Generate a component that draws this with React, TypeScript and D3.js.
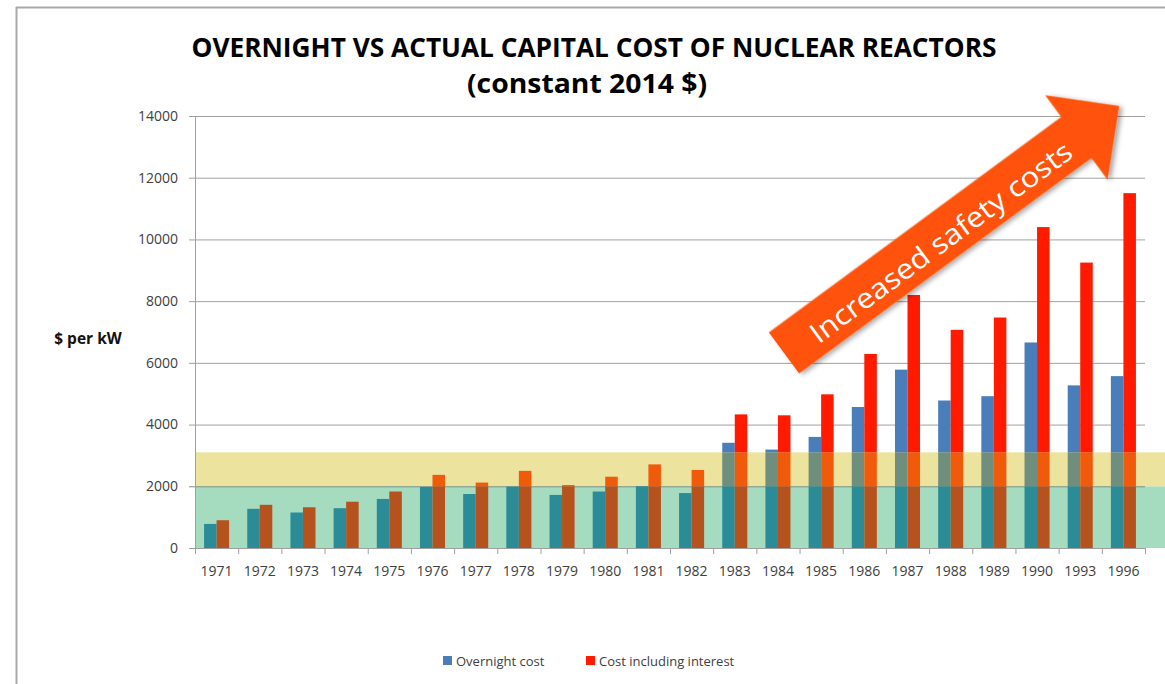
import React from "react";
import * as d3 from "d3";

const years = ["1971","1972","1973","1974","1975","1976","1977","1978","1979","1980","1981","1982","1983","1984","1985","1986","1987","1988","1989","1990","1993","1996"];
const overnightCost = [780,1270,1150,1290,1590,1980,1750,1990,1720,1830,2000,1780,3410,3190,3600,4570,5780,4780,4920,6660,5270,5570];
const costWithInterest = [900,1400,1320,1500,1830,2370,2120,2500,2040,2310,2710,2530,4330,4300,4980,6290,8200,7070,7470,10400,9250,11500];
const yTicks = [0,2000,4000,6000,8000,10000,12000,14000];
const seriesNames = ["Overnight cost","Cost including interest"];
// shaded zones (value range)
const zoneBounds = [0, 2000, 3100];
// arrow annotation in data units: [category position, value]
const arrowTail = [13.64, 6320];
const arrowTip = [21.4, 14324];
const arrowLabel = "Increased safety costs";

const W = 1165, H = 684;
const M = { left: 195, right: 1145, top: 116, bottom: 548 };

const seriesColors = ["#4a7ebb", "#ff1a00"];
// colors of bars: inside green zone, inside yellow zone, above
const zoneBarColors = [
  ["#2b8b97", "#6f8e7d", "#4a7ebb"],
  ["#b5521e", "#f25a0b", "#ff1a00"],
];
const zoneFills = ["#a5dcc0", "#ebe39e"];

export default function App() {
  const x = d3.scaleBand().domain(years).range([M.left, M.right]).padding(0);
  const xi = d3.scaleLinear().domain([0, years.length]).range([M.left, M.right]);
  const y = d3.scaleLinear().domain([0, 14000]).range([M.bottom, M.top]);
  const bw = x.bandwidth();
  const barW = bw * 0.29;
  const font = "'Open Sans', 'Liberation Sans', sans-serif";
  const series = [overnightCost, costWithInterest];
  const limits = [zoneBounds[1], zoneBounds[2], Infinity];

  // arrow geometry
  const x0 = xi(arrowTail[0]), y0 = y(arrowTail[1]);
  const x1 = xi(arrowTip[0]), y1 = y(arrowTip[1]);
  const L = Math.hypot(x1 - x0, y1 - y0);
  const ang = (Math.atan2(y1 - y0, x1 - x0) * 180) / Math.PI;
  const sh = 25.5, hh = 52.5, hl = 53;
  const arrowPts = [
    [0, -sh], [L - hl, -sh], [L - hl, -hh], [L, 0], [L - hl, hh], [L - hl, sh], [0, sh],
  ].map((p) => p.join(",")).join(" ");

  return (
    <svg width={W} height={H} style={{ position: "absolute", left: 0, top: 0, background: "#fff" }}>
      <defs>
        <filter id="shadow" x="-10%" y="-10%" width="130%" height="130%">
          <feDropShadow dx="2" dy="3" stdDeviation="2.5" floodColor="#000" floodOpacity="0.35" />
        </filter>
      </defs>
      {/* frame */}
      <line x1={16} y1={7.5} x2={W} y2={7.5} stroke="#a8a8a8" strokeWidth={2} />
      <line x1={16.5} y1={7} x2={16.5} y2={H} stroke="#a8a8a8" strokeWidth={2} />

      {/* title */}
      <text x={594} y={57} textAnchor="middle" fontFamily={font} fontWeight="bold" fontSize={26.5}
        textLength={805} lengthAdjust="spacingAndGlyphs" fill="#000">
        OVERNIGHT VS ACTUAL CAPITAL COST OF NUCLEAR REACTORS
      </text>
      <text x={587} y={93} textAnchor="middle" fontFamily={font} fontWeight="bold" fontSize={26.5}
        textLength={240} lengthAdjust="spacingAndGlyphs" fill="#000">
        (constant 2014 $)
      </text>

      {/* zones */}
      {zoneFills.map((c, i) => (
        <rect key={"z" + i} x={M.left} width={W - M.left}
          y={y(zoneBounds[i + 1])} height={y(zoneBounds[i]) - y(zoneBounds[i + 1])} fill={c} />
      ))}

      {/* gridlines */}
      {yTicks.map((t) => (
        <line key={"g" + t} x1={M.left - 6} x2={M.right} y1={y(t) + 0.5} y2={y(t) + 0.5}
          stroke={t === 2000 ? "#7f8f80" : "#a0a0a0"} strokeWidth={1} />
      ))}
      {yTicks.map((t) => (
        <text key={"yt" + t} x={178} y={y(t)} dy="0.35em" textAnchor="end" fontFamily={font}
          fontSize={14} fill="#404040">{t}</text>
      ))}
      <text x={88} y={339} dy="0.35em" textAnchor="middle" fontFamily={font} fontWeight="bold"
        fontSize={15.5} fill="#111">$ per kW</text>

      {/* bars */}
      {series.map((vals, s) =>
        vals.map((v, i) => {
          const bx = (x(years[i]) as number) + bw / 2 - barW + s * barW;
          return limits.map((hi, z) => {
            const lo = z === 0 ? 0 : limits[z - 1];
            if (v <= lo) return null;
            const top = Math.min(v, hi);
            return (
              <rect key={`b${s}-${i}-${z}`} x={bx} width={barW} y={y(top)}
                height={y(lo) - y(top)} fill={zoneBarColors[s][z]} />
            );
          });
        })
      )}

      {/* axes */}
      <line x1={M.left + 0.5} x2={M.left + 0.5} y1={M.top} y2={M.bottom} stroke="#a0a0a0" />
      <line x1={M.left} x2={M.right} y1={M.bottom + 0.5} y2={M.bottom + 0.5} stroke="#a0a0a0" />
      {[...years.map((yr) => x(yr) as number), M.right].map((px, i) => (
        <line key={"xt" + i} x1={px + 0.5} x2={px + 0.5} y1={M.bottom} y2={M.bottom + 6} stroke="#a0a0a0" />
      ))}
      {years.map((yr) => (
        <text key={"xl" + yr} x={(x(yr) as number) + bw / 2} y={571} dy="0.35em" textAnchor="middle"
          fontFamily={font} fontSize={14} fill="#404040">{yr}</text>
      ))}

      {/* arrow annotation */}
      <g transform={`translate(${x0},${y0}) rotate(${ang})`}>
        <polygon points={arrowPts} fill="#ff5209" filter="url(#shadow)" />
        <text x={192} y={4} dy="0.35em" textAnchor="middle" fontFamily={font} fontSize={28}
          textLength={318} lengthAdjust="spacingAndGlyphs" fill="#fff">{arrowLabel}</text>
      </g>

      {/* legend */}
      <rect x={443} y={656} width={9} height={9} fill={seriesColors[0]} />
      <text x={456} y={661} dy="0.35em" fontFamily={font} fontSize={13} fill="#404040">{seriesNames[0]}</text>
      <rect x={586} y={656} width={9} height={9} fill={seriesColors[1]} />
      <text x={599} y={661} dy="0.35em" fontFamily={font} fontSize={13} fill="#404040">{seriesNames[1]}</text>
    </svg>
  );
}
